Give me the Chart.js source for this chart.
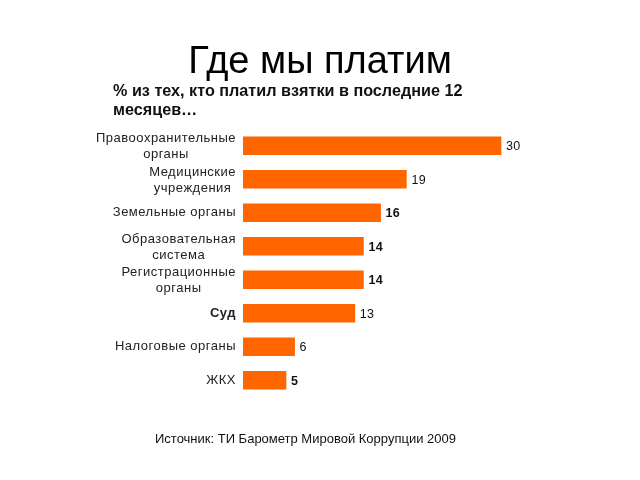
<!DOCTYPE html>
<html>
<head>
<meta charset="UTF-8">
<title>Где мы платим</title>
<script src="https://cdn.jsdelivr.net/npm/chart.js@4.4.0/dist/chart.umd.min.js"></script>
<style>
  body { margin: 0; background: #fff; font-family: "Liberation Sans", Arial, sans-serif; }
  #wrap { position: relative; width: 640px; height: 480px; }
  #chart { position: absolute; left: 0; top: 0; }
  .txt { position: absolute; color: #000; white-space: nowrap; }
  #title { left: 0; width: 640px; top: 39px; text-align: center; font-size: 38px; }
  #sub { left: 113px; top: 81px; font-size: 16.2px; font-weight: bold; line-height: 19px; color: #111; }
  #src { left: 155px; top: 431px; font-size: 13px; color: #111; }
</style>
</head>
<body>
<div id="wrap">
  <canvas id="chart" width="640" height="480"></canvas>
  <div class="txt" id="title">Где мы платим</div>
  <div class="txt" id="sub">% из тех, кто платил взятки в последние 12<br>месяцев…</div>
  <div class="txt" id="src">Источник: ТИ Барометр Мировой Коррупции 2009</div>
</div>
<script>
var categories = [
  ["Правоохранительные", "органы"],
  ["Медицинские", "учреждения"],
  ["Земельные органы"],
  ["Образовательная", "система"],
  ["Регистрационные", "органы"],
  ["Суд"],
  ["Налоговые органы"],
  ["ЖКХ"]
];
var values = [30, 19, 16, 14, 14, 13, 6, 5];
var boldValue = [false, false, true, true, true, false, false, true];
var boldLabel = [false, false, false, false, false, true, false, false];

var fontFamily = '"Liberation Sans", Arial, sans-serif';

// category labels: each block right-aligned, lines centered inside it
var labelPlugin = {
  id: 'labels',
  afterDraw(chart) {
    var ctx = chart.ctx;
    var yScale = chart.scales.y;
    var right = chart.chartArea.left - 7;
    ctx.save();
    ctx.fillStyle = '#222';
    ctx.textBaseline = 'middle';
    ctx.textAlign = 'center';
    ctx.letterSpacing = '0.5px';
    categories.forEach(function (lines, i) {
      ctx.font = (boldLabel[i] ? 'bold ' : '') + '13px ' + fontFamily;
      var w = 0;
      lines.forEach(function (l) { w = Math.max(w, ctx.measureText(l).width); });
      var cx = right - w / 2;
      var yc = yScale.getPixelForValue(i);
      var lh = 16;
      var y0 = yc - (lines.length - 1) * lh / 2 + (lines.length > 1 ? 1 : 0);
      lines.forEach(function (l, j) { ctx.fillText(l, cx, y0 + j * lh); });
    });
    // value labels
    var meta = chart.getDatasetMeta(0);
    ctx.textAlign = 'left';
    ctx.fillStyle = '#111';
    ctx.letterSpacing = '0.3px';
    meta.data.forEach(function (bar, i) {
      ctx.font = (boldValue[i] ? 'bold ' : '') + '12.5px ' + fontFamily;
      ctx.fillText(String(values[i]), bar.x + 5, bar.y + 1);
    });
    ctx.restore();
  }
};

new Chart(document.getElementById('chart'), {
  type: 'bar',
  data: {
    labels: categories,
    datasets: [{
      data: values,
      backgroundColor: '#ff6600',
      borderWidth: 0,
      barThickness: 18
    }]
  },
  options: {
    indexAxis: 'y',
    responsive: false,
    animation: false,
    layout: { padding: { left: 243, right: 53, top: 129, bottom: 83 } },
    scales: {
      x: { display: false, min: 0, max: 40 },
      y: { display: false }
    },
    plugins: {
      legend: { display: false },
      tooltip: { enabled: false }
    }
  },
  plugins: [labelPlugin]
});
</script>
</body>
</html>
